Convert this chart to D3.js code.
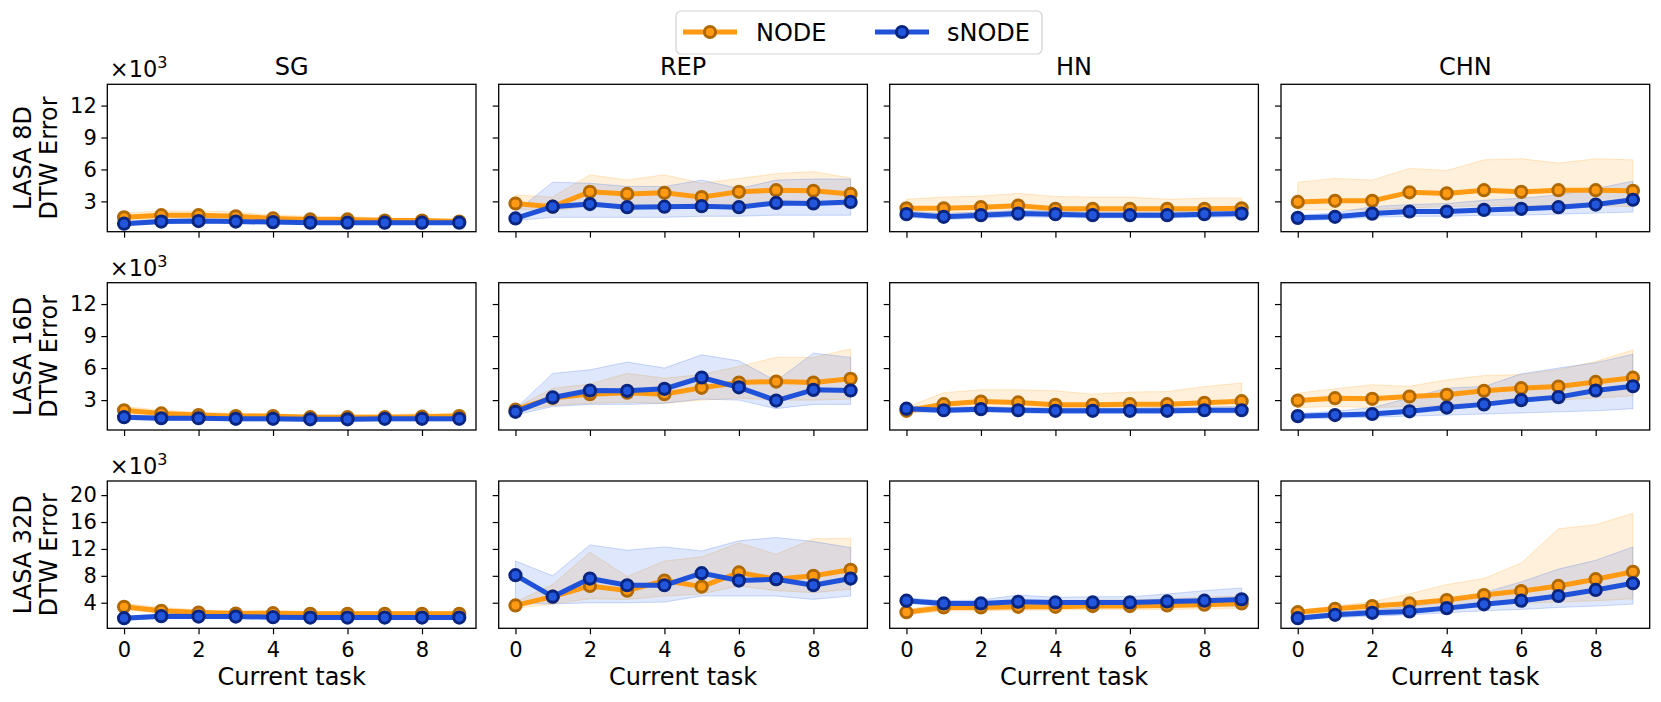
<!DOCTYPE html>
<html>
<head>
<meta charset="utf-8">
<script src="https://cdn.jsdelivr.net/npm/d3@7"></script>
<style>
  body { margin: 0; background: #fff; }
  text { font-family: "DejaVu Sans", sans-serif; fill: #000; }
</style>
</head>
<body>
<svg id="chart" width="1661" height="702"></svg>
<script>
const tasks = [0, 1, 2, 3, 4, 5, 6, 7, 8, 9]
const methods = ['SG', 'REP', 'HN', 'CHN']
const rowLabels = [['LASA 8D', 'DTW Error'], ['LASA 16D', 'DTW Error'], ['LASA 32D', 'DTW Error']]
const series = ['NODE', 'sNODE']
const xTicks = [0, 2, 4, 6, 8]
const yTicks = [[3, 6, 9, 12], [3, 6, 9, 12], [4, 8, 12, 16, 20]]
const yDomains = [[0.15, 14], [0.2, 14], [0.2, 22.1]]

// values in thousands, one array per method (SG, REP, HN, CHN)
const nodeMean8D = [
  [1.5, 1.7, 1.7, 1.6, 1.4, 1.3, 1.3, 1.2, 1.2, 1.1],
  [2.8, 2.5, 3.9, 3.7, 3.8, 3.4, 3.9, 4.05, 4.0, 3.7],
  [2.35, 2.35, 2.45, 2.6, 2.3, 2.3, 2.3, 2.3, 2.3, 2.35],
  [2.95, 3.05, 3.05, 3.85, 3.75, 4.05, 3.9, 4.05, 4.05, 4.0]]
const nodeLo8D = [
  [1.2, 1.3, 1.3, 1.3, 1.15, 1.1, 1.1, 1.05, 1.05, 1.0],
  [2.3, 2.1, 2.6, 2.7, 2.5, 2.5, 2.8, 2.9, 2.8, 2.6],
  [1.9, 1.9, 1.95, 2.0, 1.9, 1.9, 1.9, 1.9, 1.9, 1.95],
  [2.2, 2.2, 2.2, 2.4, 2.5, 2.6, 2.6, 2.6, 2.6, 2.5]]
const nodeHi8D = [
  [1.9, 2.1, 2.1, 2.0, 1.7, 1.6, 1.55, 1.45, 1.4, 1.3],
  [3.6, 3.4, 5.5, 5.0, 5.5, 4.7, 5.15, 5.6, 5.8, 5.2],
  [3.2, 3.4, 3.5, 3.75, 3.45, 3.4, 3.4, 3.2, 3.3, 3.3],
  [4.8, 5.15, 5.0, 6.1, 5.9, 6.9, 7.0, 6.6, 7.0, 6.9]]
const snodeMean8D = [
  [0.9, 1.1, 1.15, 1.1, 1.05, 1.0, 1.0, 1.0, 1.0, 1.0],
  [1.4, 2.5, 2.75, 2.45, 2.5, 2.55, 2.45, 2.85, 2.8, 2.95],
  [1.8, 1.55, 1.7, 1.85, 1.8, 1.7, 1.7, 1.7, 1.8, 1.85],
  [1.45, 1.55, 1.85, 2.05, 2.05, 2.2, 2.3, 2.45, 2.7, 3.15]]
const snodeLo8D = [
  [0.75, 0.9, 0.95, 0.95, 0.9, 0.85, 0.85, 0.85, 0.85, 0.85],
  [1.2, 1.5, 1.5, 1.5, 1.5, 1.6, 1.6, 1.7, 1.7, 1.7],
  [1.5, 1.3, 1.4, 1.55, 1.5, 1.45, 1.45, 1.45, 1.5, 1.55],
  [1.2, 1.3, 1.5, 1.6, 1.6, 1.7, 1.7, 1.8, 1.9, 2.0]]
const snodeHi8D = [
  [1.05, 1.3, 1.35, 1.3, 1.2, 1.15, 1.15, 1.15, 1.15, 1.2],
  [2.0, 4.8, 4.7, 4.4, 4.4, 5.0, 4.2, 5.0, 5.1, 5.1],
  [2.1, 1.85, 2.0, 2.15, 2.1, 2.0, 2.0, 2.0, 2.15, 2.2],
  [1.7, 1.9, 2.5, 2.7, 2.8, 3.1, 3.3, 3.6, 4.2, 4.9]]

const nodeMean16D = [
  [2.05, 1.75, 1.6, 1.5, 1.5, 1.4, 1.4, 1.4, 1.45, 1.5],
  [2.1, 3.2, 3.56, 3.7, 3.56, 4.15, 4.65, 4.74, 4.65, 5.0],
  [2.0, 2.62, 2.87, 2.78, 2.56, 2.56, 2.62, 2.62, 2.75, 2.9],
  [2.96, 3.18, 3.12, 3.34, 3.5, 3.87, 4.12, 4.27, 4.7, 5.1]]
const nodeLo16D = [
  [1.7, 1.45, 1.35, 1.3, 1.3, 1.2, 1.2, 1.2, 1.25, 1.3],
  [1.9, 2.5, 2.7, 2.8, 2.7, 3.0, 3.2, 3.0, 3.0, 3.1],
  [1.8, 2.0, 2.1, 2.1, 2.0, 2.0, 2.0, 2.0, 2.05, 2.1],
  [2.3, 2.4, 2.3, 2.4, 2.5, 2.7, 2.9, 3.0, 3.2, 3.4]]
const nodeHi16D = [
  [2.4, 2.05, 1.85, 1.75, 1.7, 1.6, 1.6, 1.65, 1.7, 1.75],
  [2.3, 4.1, 4.5, 5.5, 5.06, 5.4, 6.15, 7.0, 7.0, 7.8],
  [2.3, 3.7, 3.96, 3.96, 3.87, 3.56, 3.75, 3.8, 4.27, 4.6],
  [3.65, 4.06, 4.43, 4.3, 4.9, 5.3, 5.4, 5.84, 6.62, 7.7]]
const snodeMean16D = [
  [1.4, 1.3, 1.3, 1.25, 1.25, 1.2, 1.2, 1.25, 1.25, 1.25],
  [1.9, 3.25, 3.9, 3.87, 4.06, 5.12, 4.2, 2.96, 3.96, 3.9],
  [2.2, 2.05, 2.15, 2.05, 2.0, 2.0, 2.0, 2.0, 2.05, 2.05],
  [1.5, 1.6, 1.7, 1.95, 2.3, 2.6, 3.0, 3.28, 3.9, 4.3]]
const snodeLo16D = [
  [1.2, 1.1, 1.1, 1.05, 1.05, 1.0, 1.0, 1.05, 1.05, 1.05],
  [1.6, 2.4, 2.6, 2.6, 2.7, 3.1, 3.0, 2.2, 2.6, 2.6],
  [1.95, 1.8, 1.9, 1.8, 1.75, 1.75, 1.75, 1.75, 1.8, 1.8],
  [1.25, 1.3, 1.4, 1.5, 1.6, 1.7, 1.8, 1.9, 2.0, 2.2]]
const snodeHi16D = [
  [1.6, 1.5, 1.5, 1.45, 1.45, 1.4, 1.4, 1.45, 1.45, 1.45],
  [2.2, 5.5, 5.84, 6.56, 6.0, 7.24, 6.68, 4.8, 7.4, 7.0],
  [2.45, 2.3, 2.4, 2.3, 2.25, 2.25, 2.25, 2.3, 2.35, 2.4],
  [1.75, 1.95, 2.3, 3.2, 4.12, 4.27, 5.46, 6.0, 6.5, 7.3]]

const nodeMean32D = [
  [3.4, 2.8, 2.55, 2.4, 2.45, 2.35, 2.35, 2.35, 2.35, 2.35],
  [3.6, 4.9, 6.5, 5.8, 7.3, 6.4, 8.5, 7.5, 8.0, 8.9],
  [2.6, 3.3, 3.3, 3.4, 3.4, 3.5, 3.5, 3.6, 3.7, 3.9],
  [2.6, 3.1, 3.5, 3.9, 4.4, 5.15, 5.74, 6.5, 7.5, 8.6]]
const nodeLo32D = [
  [3.0, 2.4, 2.2, 2.1, 2.1, 2.05, 2.05, 2.05, 2.05, 2.05],
  [3.2, 3.8, 4.6, 4.5, 5.0, 5.3, 6.5, 5.8, 5.5, 6.0],
  [2.2, 2.8, 2.8, 2.9, 2.9, 3.0, 3.0, 3.0, 3.1, 3.2],
  [2.2, 2.6, 2.9, 3.1, 3.4, 3.7, 3.9, 4.1, 4.3, 4.6]]
const nodeHi32D = [
  [3.9, 3.3, 2.95, 2.75, 2.8, 2.7, 2.7, 2.7, 2.7, 2.7],
  [4.1, 6.7, 11.5, 7.9, 10.2, 10.8, 12.9, 11.2, 13.5, 13.6],
  [3.0, 3.8, 3.9, 4.0, 4.2, 4.4, 4.4, 4.6, 4.8, 5.0],
  [2.9, 3.5, 4.15, 5.3, 6.7, 7.6, 9.9, 15.0, 15.6, 17.3]]
const snodeMean32D = [
  [1.7, 2.0, 1.95, 1.95, 1.85, 1.8, 1.8, 1.8, 1.8, 1.8],
  [8.1, 4.9, 7.6, 6.6, 6.6, 8.4, 7.3, 7.5, 6.6, 7.6],
  [4.3, 3.9, 3.9, 4.15, 4.05, 4.05, 4.05, 4.2, 4.3, 4.5],
  [1.7, 2.2, 2.5, 2.7, 3.2, 3.77, 4.3, 5.0, 5.9, 6.9]]
const snodeLo32D = [
  [1.4, 1.7, 1.65, 1.65, 1.55, 1.5, 1.5, 1.5, 1.5, 1.5],
  [4.0, 3.8, 4.0, 4.0, 4.1, 5.0, 5.0, 5.0, 4.5, 5.0],
  [3.9, 3.5, 3.5, 3.6, 3.6, 3.5, 3.5, 3.5, 3.5, 3.5],
  [1.4, 1.8, 2.0, 2.2, 2.5, 2.8, 3.0, 3.3, 3.5, 3.8]]
const snodeHi32D = [
  [2.0, 2.3, 2.25, 2.25, 2.15, 2.1, 2.1, 2.1, 2.1, 2.1],
  [10.2, 8.0, 12.6, 11.8, 12.3, 11.7, 13.2, 13.7, 13.1, 12.2],
  [4.7, 4.3, 4.4, 5.15, 4.8, 4.9, 4.9, 5.3, 5.8, 6.2],
  [2.0, 2.6, 3.0, 3.4, 4.2, 5.5, 7.1, 9.0, 10.3, 12.3]]

const rowsData = [
  { node: [nodeMean8D, nodeLo8D, nodeHi8D], snode: [snodeMean8D, snodeLo8D, snodeHi8D] },
  { node: [nodeMean16D, nodeLo16D, nodeHi16D], snode: [snodeMean16D, snodeLo16D, snodeHi16D] },
  { node: [nodeMean32D, nodeLo32D, nodeHi32D], snode: [snodeMean32D, snodeLo32D, snodeHi32D] },
]

const COLORS = {
  NODE: { line: '#ff9a12', edge: '#b06800', face: '#ff9a12', band: '#ffa629' },
  sNODE: { line: '#1f52d8', edge: '#0a2580', face: '#2257dd', band: '#3b6ee6' },
}

const PANEL_LEFT = [107.3, 498.7, 889.7, 1281]
const PANEL_W = 368.7
const ROW_TOP = [84.3, 282.7, 481]
const ROW_BOTTOM = [231.7, 430, 628.3]
const TICK = 6
const FS_TICK = 21
const FS_LABEL = 24
const LINE_W = 5
const MARK_R = 5.6
const MARK_EDGE = 3

const svg = d3.select('#chart')

function plotPanel(r, c) {
  const x0 = PANEL_LEFT[c], y0 = ROW_TOP[r], h = ROW_BOTTOM[r] - ROW_TOP[r]
  const g = svg.append('g').attr('transform', `translate(${[x0, y0]})`)
  const scaleX = d3.scaleLinear().domain([-0.45, 9.45]).range([0, PANEL_W])
  const scaleY = d3.scaleLinear().domain(yDomains[r]).range([h, 0])

  const clipId = `clip-${r}-${c}`
  g.append('clipPath').attr('id', clipId).append('rect').attr('width', PANEL_W).attr('height', h)
  const plot = g.append('g').attr('clip-path', `url(#${clipId})`)

  const area = d3.area().x((d, i) => scaleX(tasks[i])).y0(d => scaleY(d[0])).y1(d => scaleY(d[1]))
  const line = d3.line().x((d, i) => scaleX(tasks[i])).y(d => scaleY(d))

  const sets = [['NODE', rowsData[r].node], ['sNODE', rowsData[r].snode]]
  sets.forEach(([name, [mean, lo, hi]]) => {
    const band = tasks.map((t, i) => [lo[c][i], hi[c][i]])
    plot.append('path').datum(band).attr('d', area)
      .attr('fill', COLORS[name].band).attr('fill-opacity', 0.17)
      .attr('stroke', COLORS[name].band).attr('stroke-opacity', 0.25).attr('stroke-width', 1)
  })
  sets.forEach(([name, [mean]]) => {
    const col = COLORS[name]
    plot.append('path').datum(mean[c]).attr('d', line)
      .attr('fill', 'none').attr('stroke', col.line).attr('stroke-width', LINE_W)
      .attr('stroke-linejoin', 'round')
    plot.append('g').selectAll('circle').data(mean[c]).join('circle')
      .attr('cx', (d, i) => scaleX(tasks[i])).attr('cy', d => scaleY(d))
      .attr('r', MARK_R).attr('fill', col.face).attr('stroke', col.edge).attr('stroke-width', MARK_EDGE)
  })

  // axes
  const axisX = d3.axisBottom(scaleX).tickValues(xTicks).tickSize(TICK).tickPadding(8)
  const gx = g.append('g').attr('transform', `translate(0,${h})`).call(axisX)
  if (r < 2) gx.selectAll('.tick text').remove()
  const axisY = d3.axisLeft(scaleY).tickValues(yTicks[r]).tickSize(TICK).tickPadding(4.5)
  const gy = g.append('g').call(axisY)
  if (c > 0) gy.selectAll('.tick text').remove()
  g.selectAll('.domain').remove()
  g.selectAll('.tick line').attr('stroke', '#000').attr('stroke-width', 1.2)
  g.selectAll('.tick text').style('font-size', FS_TICK + 'px').style('font-family', 'DejaVu Sans').attr('fill', '#000')

  g.append('rect').attr('width', PANEL_W).attr('height', h)
    .attr('fill', 'none').attr('stroke', '#000').attr('stroke-width', 1.3)

  if (r === 0) {
    g.append('text').text(methods[c]).attr('x', PANEL_W / 2).attr('y', -9)
      .attr('text-anchor', 'middle').style('font-size', FS_LABEL + 'px')
  }
  if (r === 2) {
    g.append('text').text('Current task').attr('x', PANEL_W / 2).attr('y', h + 56.7)
      .attr('text-anchor', 'middle').style('font-size', FS_LABEL + 'px')
  }
  if (c === 0) {
    const off = g.append('text').attr('x', 2.5).attr('y', -7).style('font-size', '22.5px')
    off.append('tspan').text('×10')
    off.append('tspan').text('3').attr('dy', -9).style('font-size', '16px')
    const yl = g.append('text').attr('transform', `translate(${-71},${h / 2}) rotate(-90)`)
      .attr('text-anchor', 'middle').style('font-size', FS_LABEL + 'px')
    yl.append('tspan').text(rowLabels[r][0]).attr('x', 0).attr('dy', -5)
    yl.append('tspan').text(rowLabels[r][1]).attr('x', 0).attr('dy', 25.7)
  }
}

for (let r = 0; r < 3; ++r) {
  for (let c = 0; c < 4; ++c) plotPanel(r, c)
}

// legend
const lg = svg.append('g').attr('transform', 'translate(676,11)')
lg.append('rect').attr('width', 366).attr('height', 43).attr('rx', 5)
  .attr('fill', '#fff').attr('fill-opacity', 0.8).attr('stroke', '#d3d3d3').attr('stroke-width', 1.2)
const legendItems = [[7, 80], [199, 271]]
series.forEach((name, i) => {
  const col = COLORS[name]
  const [lx, tx] = legendItems[i]
  const item = lg.append('g')
  item.append('line').attr('x1', lx).attr('x2', lx + 54).attr('y1', 21).attr('y2', 21)
    .attr('stroke', col.line).attr('stroke-width', LINE_W)
  item.append('circle').attr('cx', lx + 27).attr('cy', 21).attr('r', MARK_R)
    .attr('fill', col.face).attr('stroke', col.edge).attr('stroke-width', MARK_EDGE)
  item.append('text').text(name).attr('x', tx).attr('y', 29.5).style('font-size', FS_LABEL + 'px')
})
</script>
</body>
</html>
